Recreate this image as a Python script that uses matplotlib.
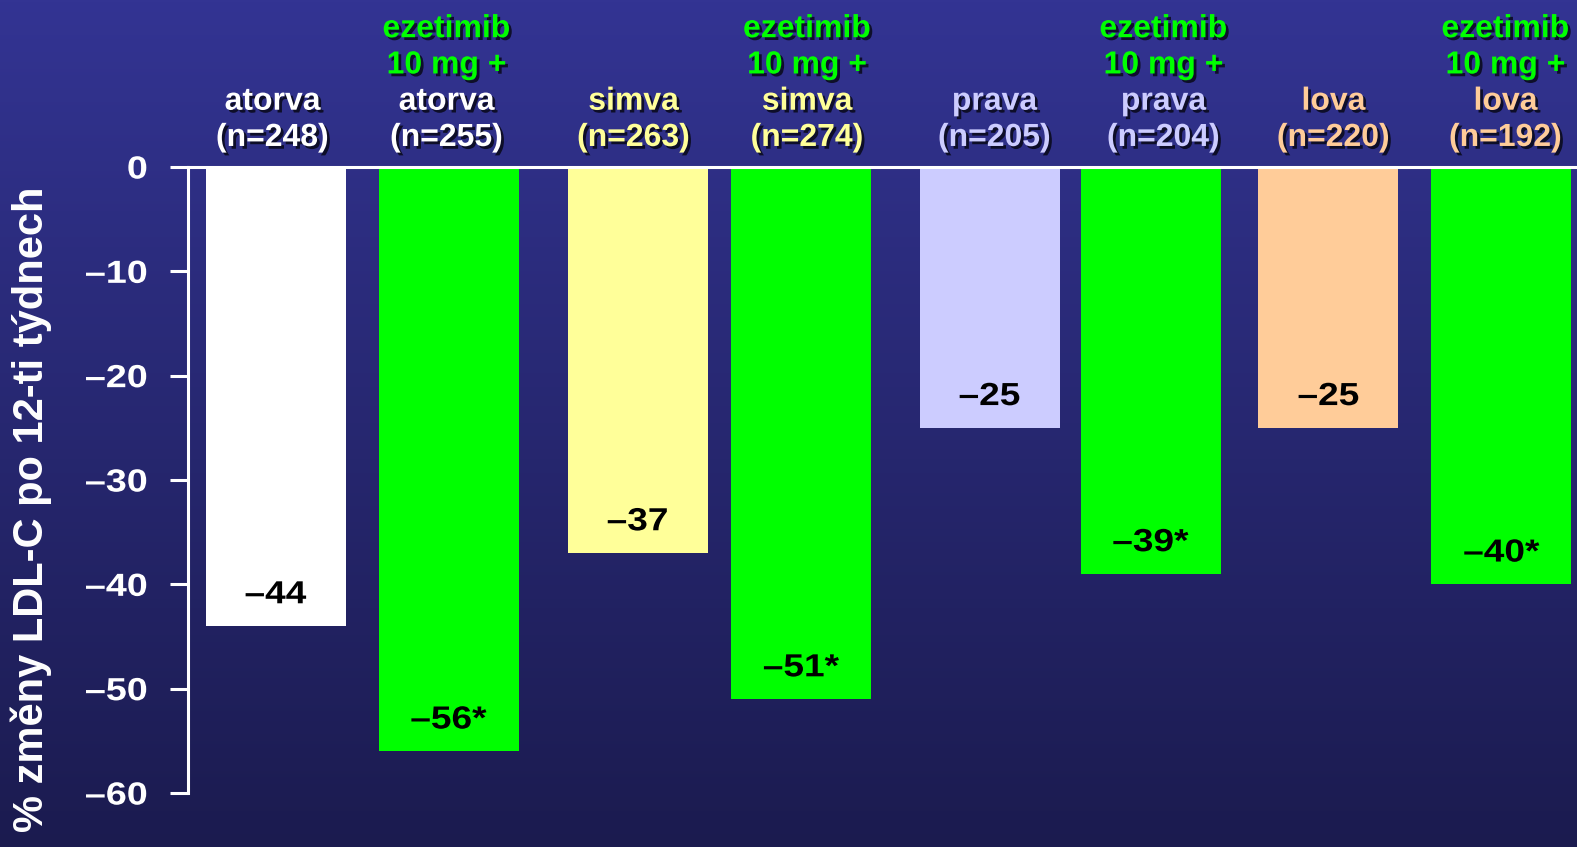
import numpy as np
import matplotlib.pyplot as plt
import matplotlib.patheffects as pe
from matplotlib.transforms import Affine2D

plt.rcParams['font.family'] = ['Liberation Sans', 'DejaVu Sans']
plt.rcParams['font.weight'] = 'bold'

# data
drugs = ['atorva', 'atorva', 'simva', 'simva', 'prava', 'prava', 'lova', 'lova']
combo = [False, True, False, True, False, True, False, True]
n_pts = [248, 255, 263, 274, 205, 204, 220, 192]
values = [-44, -56, -37, -51, -25, -39, -25, -40]
starred = [False, True, False, True, False, True, False, True]

drug_colors = {'atorva': '#ffffff', 'simva': '#ffff99', 'prava': '#ccccff', 'lova': '#ffcc99'}
eze_green = '#00ff00'

# bar centres (in bar-width units from the y axis) and label nudges (px)
positions = [0.625, 1.861, 3.211, 4.379, 5.725, 6.875, 8.146, 9.382]
label_dx = [-3, -2, -4, 6, 5, 13, 5, 4]


class StretchX(pe.AbstractPathEffect):
    """Draw the path widened horizontally, optionally with a drop shadow."""

    def __init__(self, sx, anchor='center', shadow=False):
        super().__init__()
        self.sx = sx
        self.anchor = anchor
        self.shadow = shadow

    def draw_path(self, renderer, gc, tpath, affine, rgbFace=None):
        bb = tpath.get_extents(affine)
        cx = bb.x1 if self.anchor == 'right' else 0.5 * (bb.x0 + bb.x1)
        post = Affine2D().translate(-cx, 0).scale(self.sx, 1).translate(cx, 0)
        if self.shadow:
            pe.SimplePatchShadow(offset=(2, -2), shadow_rgbFace='black', alpha=0.7).draw_path(
                renderer, gc, tpath, affine + post, rgbFace)
        renderer.draw_path(gc, tpath, affine + post, rgbFace)


W, H = 1577, 847
fig = plt.figure(figsize=(W / 100, H / 100), dpi=100)

# background gradient
bg = fig.add_axes([0, 0, 1, 1])
top = np.array([0x33, 0x34, 0x93]) / 255
bot = np.array([0x1b, 0x1b, 0x4f]) / 255
t = np.linspace(0, 1, 256)[:, None]
grad = top[None, :] * (1 - t) + bot[None, :] * t
bg.imshow(grad[:, None, :], aspect='auto', extent=[0, 1, 0, 1])
bg.axis('off')

ax = fig.add_axes([188 / W, (H - 793) / H, (W - 188) / W, (793 - 167) / H])
ax.patch.set_alpha(0)

colors = [eze_green if c else drug_colors[d] for d, c in zip(drugs, combo)]
ax.bar(positions, values, width=1.0, color=colors, zorder=2)
ax.axhline(0, color='white', lw=2.2, zorder=3, clip_on=False)

ax.set_xlim(0, (W - 188) / 140)
ax.set_ylim(-60, 0)
ax.set_xticks([])
yt = [0, -10, -20, -30, -40, -50, -60]
ax.set_yticks(yt)
ax.set_yticklabels(['0' if v == 0 else '\u2013%d' % abs(v) for v in yt])
ax.tick_params(axis='y', colors='white', labelsize=23, length=13, width=2.2, pad=16)
for tick in ax.yaxis.get_major_ticks():
    tick.label1.set_path_effects([StretchX(1.18, anchor='right')])
for s in ['top', 'right', 'bottom']:
    ax.spines[s].set_visible(False)
ax.spines['left'].set_color('white')
ax.spines['left'].set_linewidth(2.2)

# value labels inside bars
for x, v, st in zip(positions, values, starred):
    txt = '\u2013%d%s' % (abs(v), '*' if st else '')
    ax.text(x, v + 2.95, txt, ha='center', va='center', fontsize=23,
            color='black', zorder=4, path_effects=[StretchX(1.16)])

# group labels above the bars
shadow = [pe.withSimplePatchShadow(offset=(2, -2), shadow_rgbFace='black', alpha=0.7)]
for x, d, c, n, dx in zip(positions, drugs, combo, n_pts, label_dx):
    col = drug_colors[d]
    lines = [(d, col), ('(n=%d)' % n, col)]
    if c:
        lines = [('ezetimib', eze_green), ('10 mg +', eze_green)] + lines
    for i, (s, lc) in enumerate(reversed(lines)):
        ax.annotate(s, xy=(x, 0), xytext=(dx * 0.72, 20.9 + 26.1 * i),
                    textcoords='offset points', ha='center', va='center',
                    fontsize=23, color=lc, annotation_clip=False, path_effects=shadow)

fig.text(31 / W, (H - 186) / H, '% změny LDL-C po 12-ti týdnech', rotation=90,
         ha='center', va='top', fontsize=30, color='white')

fig.savefig('out.png', dpi=100)
